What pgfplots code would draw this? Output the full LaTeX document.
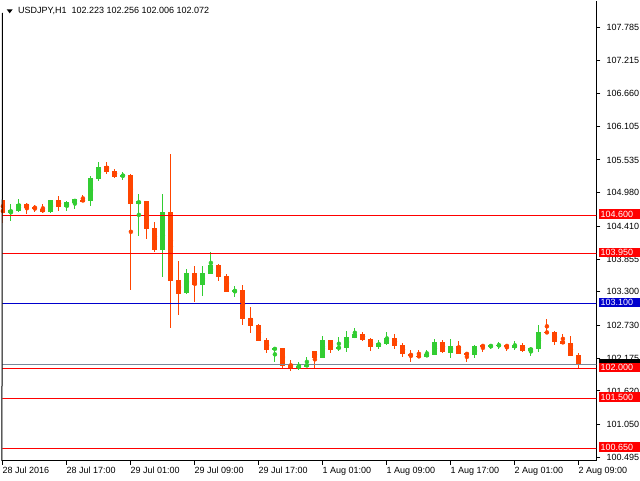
\documentclass[border=0pt]{standalone}
\usepackage{fontspec}
\setmainfont{Liberation Sans}
\usepackage{pgfplots}
\usepackage{pgfplotstable}
\pgfplotsset{compat=1.18}
\definecolor{bull}{RGB}{50,205,50}
\definecolor{bear}{RGB}{255,69,0}
\definecolor{lvlred}{RGB}{255,0,0}
\definecolor{lvlblue}{RGB}{0,0,205}
\definecolor{curgray}{RGB}{119,136,153}

% bullish candles (close > open)
\pgfplotstableread{
x o h l c
1 104.644 104.792 104.504 104.690
2 104.673 104.877 104.656 104.792
6 104.656 104.862 104.639 104.860
8 104.746 104.838 104.678 104.826
9 104.809 104.880 104.712 104.877
11 104.843 105.266 104.763 105.232
12 105.221 105.504 105.187 105.419
15 105.255 105.334 105.204 105.283
17 104.797 104.961 104.249 104.843
20 104.012 104.961 103.554 104.656
23 103.283 103.690 103.266 103.622
25 103.419 103.741 103.232 103.622
26 103.605 103.978 103.605 103.758
29 103.300 103.402 103.215 103.334
34 102.317 102.368 102.113 102.351
37 102.012 102.113 101.978 102.045
38 102.028 102.198 102.028 102.079
40 102.186 102.554 102.186 102.486
42 102.334 102.537 102.300 102.368
43 102.351 102.639 102.283 102.537
44 102.520 102.690 102.520 102.588
47 102.368 102.486 102.334 102.435
48 102.418 102.622 102.401 102.520
53 102.198 102.317 102.198 102.249
54 102.232 102.503 102.232 102.452
56 102.266 102.503 102.181 102.385
59 102.232 102.401 102.181 102.385
61 102.368 102.418 102.334 102.401
62 102.385 102.452 102.334 102.401
64 102.351 102.469 102.317 102.401
66 102.300 102.368 102.215 102.351
67 102.334 102.741 102.283 102.622
}\upc

% bearish candles (close < open)
\pgfplotstableread{
x o h l c
0 104.860 104.866 104.475 104.644
3 104.792 104.814 104.622 104.729
4 104.746 104.775 104.651 104.707
5 104.707 104.792 104.639 104.656
7 104.860 104.927 104.673 104.746
10 104.860 104.944 104.826 104.838
13 105.436 105.504 105.305 105.339
14 105.351 105.385 105.238 105.255
16 105.288 105.300 103.334 104.797
18 104.843 104.846 104.198 104.368
19 104.385 104.487 103.983 104.012
21 104.656 105.644 102.690 103.486
22 103.503 103.826 102.910 103.266
24 103.622 103.741 103.130 103.419
27 103.758 103.775 103.486 103.554
28 103.571 103.605 103.300 103.300
30 103.334 103.419 102.741 102.842
31 102.859 103.046 102.605 102.724
32 102.741 102.757 102.469 102.469
33 102.486 102.525 102.254 102.317
35 102.351 102.351 102.012 102.045
36 102.062 102.147 101.961 102.012
39 102.300 102.300 102.012 102.181
41 102.486 102.490 102.266 102.317
45 102.588 102.622 102.469 102.486
46 102.503 102.520 102.300 102.368
49 102.520 102.588 102.334 102.385
50 102.401 102.435 102.198 102.249
51 102.249 102.317 102.113 102.215
52 102.215 102.317 102.181 102.198
55 102.452 102.486 102.266 102.283
57 102.385 102.469 102.249 102.249
58 102.266 102.283 102.113 102.232
60 102.401 102.418 102.283 102.368
63 102.401 102.418 102.300 102.368
65 102.401 102.435 102.283 102.300
68 102.622 102.842 102.588 102.605
69 102.622 102.639 102.401 102.452
70 102.469 102.588 102.418 102.418
71 102.435 102.554 102.215 102.215
72 102.223 102.256 102.006 102.072
}\downc

\begin{document}
\begin{tikzpicture}[x=1pt,y=1pt]
\useasboundingbox (0,0) rectangle (640,480);
\begin{axis}[
  at={(3,32.5)}, anchor=south west,
  scale only axis, width=594pt, height=460pt,
  xmin=-0.0625, xmax=74.1875, ymin=100.435, ymax=108.233,
  axis x line*=bottom, axis y line*=right,
  axis line style={line width=1pt, black, -},
  tick align=outside, major tick length=4pt,
  every tick/.style={black, line width=1pt},
  minor tick num=0,
  ytick={100.495,101.050,101.620,102.175,102.730,103.300,103.855,104.410,104.980,105.535,106.105,106.660,107.215,107.785},
  yticklabels={100.495,101.050,101.620,102.175,102.730,103.300,103.855,104.410,104.980,105.535,106.105,106.660,107.215,107.785},
  xtick={0,8,16,24,32,40,48,56,64,72},
  xticklabels={28 Jul 2016,28 Jul 17:00,29 Jul 01:00,29 Jul 09:00,29 Jul 17:00,1 Aug 01:00,1 Aug 09:00,1 Aug 17:00,2 Aug 01:00,2 Aug 09:00},
  yticklabel style={font=\fontsize{9}{10}\selectfont, anchor=west, inner sep=0pt, xshift=6pt},
  xticklabel style={font=\fontsize{9}{10}\selectfont, anchor=north west, inner sep=0pt, xshift=-0.5pt, yshift=-2pt},
  clip=true,
]
% wicks
\addplot[bull, only marks, mark=none, forget plot,
  error bars/.cd, y dir=both, y explicit, error mark=none,
  error bar style={line width=1pt, solid}]
  table[x=x, y expr={(\thisrow{h}+\thisrow{l})/2}, y error expr={(\thisrow{h}-\thisrow{l})/2}] {\upc};
\addplot[bear, only marks, mark=none, forget plot,
  error bars/.cd, y dir=both, y explicit, error mark=none,
  error bar style={line width=1pt, solid}]
  table[x=x, y expr={(\thisrow{h}+\thisrow{l})/2}, y error expr={(\thisrow{h}-\thisrow{l})/2}] {\downc};
% bodies
\addplot[bull, only marks, mark=none, forget plot,
  error bars/.cd, y dir=both, y explicit, error mark=none,
  error bar style={line width=5pt, solid}]
  table[x=x, y expr={(\thisrow{o}+\thisrow{c})/2}, y error expr={abs(\thisrow{c}-\thisrow{o})/2}] {\upc};
\addplot[bear, only marks, mark=none, forget plot,
  error bars/.cd, y dir=both, y explicit, error mark=none,
  error bar style={line width=5pt, solid}]
  table[x=x, y expr={(\thisrow{o}+\thisrow{c})/2}, y error expr={abs(\thisrow{o}-\thisrow{c})/2}] {\downc};
% levels
\addplot[lvlred, line width=1pt, forget plot] coordinates {(-2,104.600) (80,104.600)};
\addplot[lvlred, line width=1pt, forget plot] coordinates {(-2,103.950) (80,103.950)};
\addplot[lvlblue, line width=1pt, forget plot] coordinates {(-2,103.100) (80,103.100)};
\addplot[curgray, line width=1pt, forget plot] coordinates {(-2,102.072) (80,102.072)};
\addplot[lvlred, line width=1pt, forget plot] coordinates {(-2,102.000) (80,102.000)};
\addplot[lvlred, line width=1pt, forget plot] coordinates {(-2,101.500) (80,101.500)};
\addplot[lvlred, line width=1pt, forget plot] coordinates {(-2,100.650) (80,100.650)};
\coordinate (La) at (axis cs:74.1875,104.600);
\coordinate (Lb) at (axis cs:74.1875,103.950);
\coordinate (Lc) at (axis cs:74.1875,103.100);
\coordinate (Lg) at (axis cs:74.1875,102.072);
\coordinate (Ld) at (axis cs:74.1875,102.000);
\coordinate (Le) at (axis cs:74.1875,101.500);
\coordinate (Lf) at (axis cs:74.1875,100.650);
\coordinate (Lbot) at (rel axis cs:0,0);
\end{axis}
% left frame line
\draw[line width=1pt] (Lbot) ++(-0.5,0) -- (2.5,467);
% price tags on the right scale
\tikzset{tag/.style={anchor=west, text=white, font=\fontsize{9}{10}\selectfont, inner xsep=2pt, inner ysep=0pt, minimum height=9.5pt, text width=37pt, align=left}}
\path (Lg) ++(2,1) node[tag, fill=black] {\phantom{102.072}};
\path (La) ++(2,1) node[tag, fill=lvlred] {104.600};
\path (Lb) ++(2,1) node[tag, fill=lvlred] {103.950};
\path (Lc) ++(2,1) node[tag, fill=lvlblue] {103.100};
\path (Ld) ++(2,1) node[tag, fill=lvlred] {102.000};
\path (Le) ++(2,1) node[tag, fill=lvlred] {101.500};
\path (Lf) ++(2,1) node[tag, fill=lvlred] {100.650};
% title
\fill (6.7,470.7) -- (12.7,470.7) -- (9.7,466.7) -- cycle;
\node[anchor=west, inner sep=0pt, font=\fontsize{9}{10}\selectfont] at (18,469.5) {USDJPY,H1\ \ 102.223 102.256 102.006 102.072};
\end{tikzpicture}
\end{document}
